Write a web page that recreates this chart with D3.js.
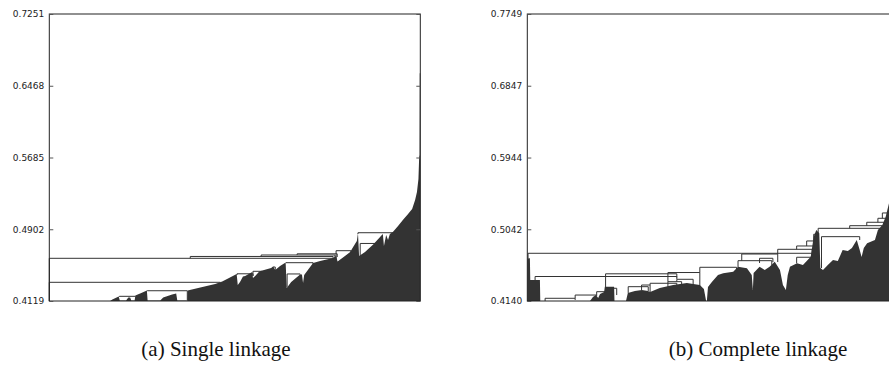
<!DOCTYPE html>
<html>
<head>
<meta charset="utf-8">
<script src="https://cdn.jsdelivr.net/npm/d3@7"></script>
<style>
  body { margin: 0; background: #fff; }
</style>
</head>
<body>
<svg id="chart" width="889" height="383"></svg>
<script>
// ---- (a) single linkage ----
const singleTicks = [0.4119, 0.4902, 0.5685, 0.6468, 0.7251];
// top edge of the solid mass of merges: [leaf position %, merge distance]
const singleProfile = [
  [16.4, 0.4119], [17.0, 0.4135], [18.7, 0.4168], [19.0, 0.4124], [20.7, 0.4124],
  [21.3, 0.4157], [21.8, 0.4157], [22.1, 0.4124], [23.0, 0.4124], [23.2, 0.4179],
  [24.8, 0.4206], [26.3, 0.4234], [26.5, 0.4124], [29.9, 0.4124], [30.7, 0.4157],
  [33.1, 0.4190], [34.2, 0.4201], [34.5, 0.4124], [37.2, 0.4124], [37.3, 0.4234],
  [40.7, 0.4266], [44.7, 0.4305], [46.6, 0.4332], [48.7, 0.4375], [50.5, 0.4414],
  [50.8, 0.4294], [51.4, 0.4326], [52.2, 0.4386], [52.8, 0.4392], [54.7, 0.4435],
  [54.9, 0.4370], [55.5, 0.4392], [56.6, 0.4441], [57.4, 0.4452], [59.8, 0.4479],
  [60.3, 0.4495], [60.9, 0.4457], [62.2, 0.4501], [63.7, 0.4539], [64.0, 0.4261],
  [65.2, 0.4326], [67.6, 0.4408], [68.1, 0.4408], [68.4, 0.4315], [68.7, 0.4403],
  [69.7, 0.4457], [71.1, 0.4534], [73.0, 0.4556], [76.5, 0.4588], [77.3, 0.4610],
  [77.7, 0.4550], [79.7, 0.4610], [81.1, 0.4654], [81.9, 0.4708], [82.9, 0.4774],
  [83.2, 0.4861], [83.5, 0.4610], [85.1, 0.4654], [87.3, 0.4736], [89.4, 0.4828],
  [89.9, 0.4850], [90.2, 0.4719], [90.8, 0.4839], [91.3, 0.4785], [91.8, 0.4850],
  [92.6, 0.4872], [94.0, 0.4937], [95.3, 0.5003], [96.7, 0.5068], [97.8, 0.5123],
  [98.6, 0.5221], [99.1, 0.5308], [99.5, 0.5450], [99.7, 0.5690], [99.8, 0.5712],
  [99.85, 0.6604], [100, 0.6604]
];
// open merges: [left leaf %, right leaf %, height, left child height, right child height]
const singleLinks = [
  [0, 76.5, 0.4585, 0.4119, 0.4566],
  [38.0, 76.5, 0.4605, 0.4585, 0.4577],
  [57.1, 77.0, 0.4621, 0.4605, 0.4588],
  [66.8, 77.6, 0.4634, 0.4621, 0.4599],
  [77.3, 81.3, 0.4668, 0.4550, 0.4643],
  [83.2, 92.9, 0.4864, 0.4850, 0.4872],
  [83.8, 89.7, 0.4747, 0.4610, 0.4785],
  [0, 46.1, 0.4323, 0.4119, 0.4326],
  [26.4, 37.2, 0.4231, 0.4228, 0.4130],
  [18.9, 23.2, 0.4170, 0.4163, 0.4174],
  [50.6, 54.9, 0.4416, 0.4403, 0.4392],
  [54.9, 57.4, 0.4443, 0.4392, 0.4435],
  [63.8, 71.1, 0.4537, 0.4534, 0.4523],
  [64.1, 67.6, 0.4414, 0.4272, 0.4408],
  [60.3, 60.9, 0.4490, 0.4479, 0.4457]
];

// ---- (b) complete linkage ----
const completeTicks = [0.4140, 0.5042, 0.5944, 0.6847, 0.7749];
const completeProfile = [
  [0, 0.4677], [0.7, 0.4677], [0.8, 0.4404], [3.4, 0.4404], [3.5, 0.4140],
  [16.9, 0.4140], [17.7, 0.4190], [18.5, 0.4215], [19.1, 0.4178], [19.6, 0.4228],
  [20.7, 0.4253], [20.9, 0.4320], [23.4, 0.4320], [23.5, 0.4140], [26.6, 0.4140],
  [27.1, 0.4241], [29.0, 0.4266], [30.9, 0.4278], [32.5, 0.4266], [33.1, 0.4253],
  [35.7, 0.4303], [39.3, 0.4341], [43.0, 0.4366], [46.5, 0.4341], [47.6, 0.4290],
  [48.2, 0.4140], [48.4, 0.4140], [48.7, 0.4316], [49.8, 0.4383], [51.4, 0.4467],
  [52.8, 0.4488], [55.5, 0.4508], [56.8, 0.4571], [59.2, 0.4551], [60.5, 0.4467],
  [60.8, 0.4278], [61.0, 0.4492], [62.6, 0.4571], [64.0, 0.4530], [65.3, 0.4571],
  [66.7, 0.4634], [68.1, 0.4530], [68.9, 0.4341], [69.7, 0.4278], [70.2, 0.4467],
  [70.8, 0.4571], [72.7, 0.4614], [74.3, 0.4593], [76.4, 0.4697], [77.2, 0.4949],
  [77.9, 0.5033], [78.7, 0.4991], [79.0, 0.4555], [79.7, 0.4530], [81.0, 0.4593],
  [82.4, 0.4656], [83.7, 0.4643], [85.0, 0.4781], [86.4, 0.4768], [87.5, 0.4807],
  [88.8, 0.4907], [89.6, 0.4781], [90.1, 0.4693], [90.7, 0.4807], [91.6, 0.4866],
  [93.7, 0.4907], [94.5, 0.5033], [95.7, 0.5096], [96.6, 0.5200], [97.5, 0.5369],
  [98.8, 0.5662], [100, 0.6039]
];
const completeLinks = [
  [0.2, 76.8, 0.4740, 0.4677, 0.4690],
  [2.1, 40.3, 0.4448, 0.4404, 0.4417],
  [4.8, 12.9, 0.4174, 0.4140, 0.4153],
  [12.9, 18.7, 0.4215, 0.4174, 0.4203],
  [18.7, 21.4, 0.4257, 0.4215, 0.4303],
  [21.1, 40.3, 0.4482, 0.4300, 0.4436],
  [21.1, 24.1, 0.4300, 0.4303, 0.4215],
  [27.2, 32.6, 0.4320, 0.4241, 0.4266],
  [30.8, 33.1, 0.4341, 0.4278, 0.4253],
  [33.1, 40.3, 0.4363, 0.4341, 0.4316],
  [37.9, 41.6, 0.4383, 0.4316, 0.4329],
  [40.3, 44.7, 0.4413, 0.4383, 0.4329],
  [37.9, 46.5, 0.4498, 0.4383, 0.4320],
  [46.5, 56.4, 0.4564, 0.4498, 0.4505],
  [56.8, 65.9, 0.4647, 0.4568, 0.4593],
  [57.8, 67.5, 0.4731, 0.4647, 0.4630],
  [67.5, 76.8, 0.4790, 0.4731, 0.4693],
  [72.6, 76.4, 0.4690, 0.4614, 0.4697],
  [72.6, 77.2, 0.4832, 0.4790, 0.4819],
  [75.3, 77.7, 0.4895, 0.4832, 0.4907],
  [77.2, 78.4, 0.4979, 0.4895, 0.4957],
  [78.4, 95.1, 0.5054, 0.4979, 0.5008],
  [79.3, 89.6, 0.4949, 0.4555, 0.4907],
  [86.9, 95.6, 0.5087, 0.5054, 0.5083],
  [91.5, 96.1, 0.5130, 0.5087, 0.5096],
  [94.5, 96.6, 0.5180, 0.5130, 0.5184],
  [95.7, 97.4, 0.5247, 0.5180, 0.5259],
  [62.6, 66.2, 0.4677, 0.4618, 0.4630]
];

const panels = [
  { left: 49.3, right: 420.3, ticks: singleTicks, profile: singleProfile, links: singleLinks,
    caption: '(a) Single linkage', captionX: 216 },
  { left: 527.3, right: 898.3, ticks: completeTicks, profile: completeProfile, links: completeLinks,
    caption: '(b) Complete linkage', captionX: 758 }
];

const plotTop = 14, plotBottom = 301;
const ink = '#333';
const svg = d3.select('#chart');

panels.forEach(p => {
  const x = d3.scaleLinear().domain([0, 100]).range([p.left, p.right]);
  const y = d3.scaleLinear().domain([p.ticks[0], p.ticks[p.ticks.length - 1]]).range([plotBottom, plotTop]);
  const g = svg.append('g');

  // solid mass of low merges
  g.append('path')
    .datum(p.profile)
    .attr('fill', ink)
    .attr('d', d3.area().x(d => x(d[0])).y0(y(p.ticks[0])).y1(d => y(d[1])));

  // individual merge brackets
  g.append('g')
    .selectAll('path')
    .data(p.links)
    .join('path')
    .attr('fill', 'none')
    .attr('stroke', ink)
    .attr('stroke-width', 1)
    .attr('d', d => {
      const path = d3.path();
      path.moveTo(x(d[0]), y(d[3]));
      path.lineTo(x(d[0]), y(d[2]));
      path.lineTo(x(d[1]), y(d[2]));
      path.lineTo(x(d[1]), y(d[4]));
      return path.toString();
    });

  // frame
  g.append('rect')
    .attr('x', p.left).attr('y', plotTop)
    .attr('width', p.right - p.left).attr('height', plotBottom - plotTop)
    .attr('fill', 'none').attr('stroke', '#222').attr('stroke-width', 1);

  // y axis, ticks inside on both sides
  const axisL = d3.axisLeft(y).tickValues(p.ticks).tickFormat(d3.format('.4f')).tickSizeInner(-4).tickSizeOuter(0).tickPadding(5);
  const ga = g.append('g').attr('transform', `translate(${p.left},0)`).call(axisL);
  ga.select('.domain').remove();
  ga.selectAll('.tick line').attr('stroke', '#555');
  ga.selectAll('.tick text')
    .attr('font-family', '"DejaVu Sans", sans-serif')
    .attr('font-size', 9)
    .attr('fill', '#222');

  const axisR = d3.axisRight(y).tickValues(p.ticks).tickFormat('').tickSizeInner(-4).tickSizeOuter(0);
  const gr = g.append('g').attr('transform', `translate(${p.right},0)`).call(axisR);
  gr.select('.domain').remove();
  gr.selectAll('.tick line').attr('stroke', '#555');

  // caption
  svg.append('text')
    .attr('x', p.captionX).attr('y', 356)
    .attr('text-anchor', 'middle')
    .attr('font-family', '"Liberation Serif", "DejaVu Serif", serif')
    .attr('font-size', 21)
    .attr('fill', '#111')
    .text(p.caption);
});
</script>
</body>
</html>
